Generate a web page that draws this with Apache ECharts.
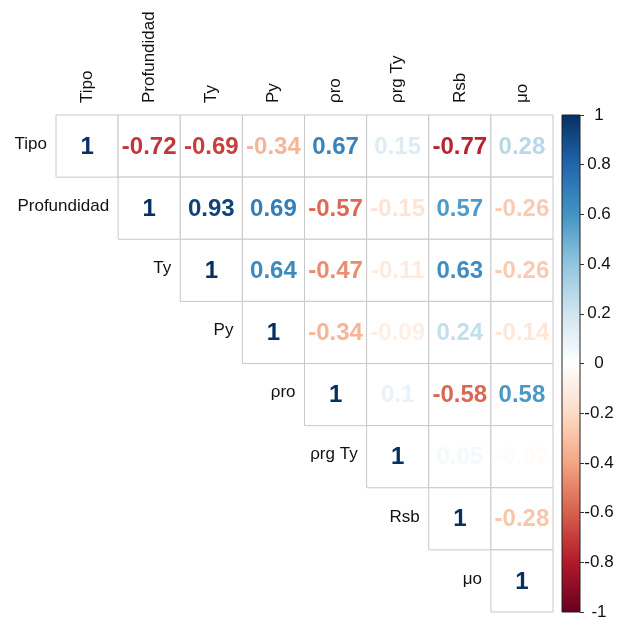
<!DOCTYPE html>
<html>
<head>
<meta charset="utf-8">
<script src="https://cdn.jsdelivr.net/npm/echarts@6/dist/echarts.min.js"></script>
<style>html,body{margin:0;padding:0;background:#fff}#c{width:621px;height:623px}</style>
</head>
<body>
<div id="c"></div>
<script>
const names = ['Tipo', 'Profundidad', 'Ty', 'Py', 'ρro', 'ρrg Ty', 'Rsb', 'μo'];
// upper-triangle correlation rows (starting at the diagonal)
const corTipo = [1, -0.72, -0.69, -0.34, 0.67, 0.15, -0.77, 0.28];
const corProfundidad = [1, 0.93, 0.69, -0.57, -0.15, 0.57, -0.26];
const corTy = [1, 0.64, -0.47, -0.11, 0.63, -0.26];
const corPy = [1, -0.34, -0.09, 0.24, -0.14];
const corRhoRo = [1, 0.1, -0.58, 0.58];
const corRhoRgTy = [1, 0.05, -0.02];
const corRsb = [1, -0.28];
const corMu = [1];
const barRange = [-1, 1];
const barStep = 0.2;
const rdbu = ['#67001F', '#B2182B', '#D6604D', '#F4A582', '#FDDBC7', '#FFFFFF',
              '#D1E5F0', '#92C5DE', '#4393C3', '#2166AC', '#053061'];

const rows = [corTipo, corProfundidad, corTy, corPy, corRhoRo, corRhoRgTy, corRsb, corMu];
const cells = [];
rows.forEach((row, i) => row.forEach((v, k) => cells.push([i + k, i, v])));

function hex2rgb(h) { return [1, 3, 5].map(p => parseInt(h.substr(p, 2), 16)); }
function colorFor(v) {
  const t = (v + 1) / 2 * (rdbu.length - 1);
  const i = Math.min(rdbu.length - 2, Math.max(0, Math.floor(t)));
  const f = t - i;
  const a = hex2rgb(rdbu[i]), b = hex2rgb(rdbu[i + 1]);
  const c = a.map((x, j) => Math.round(x + (b[j] - x) * f));
  return 'rgb(' + c.join(',') + ')';
}

const FONT = '"Liberation Sans", Arial, Helvetica, sans-serif';
const chart = echarts.init(document.getElementById('c'), null, { renderer: 'canvas' });

chart.setOption({
  animation: false,
  backgroundColor: '#fff',
  grid: [
    { left: 56, top: 115, width: 497, height: 497 },
    { left: 562, top: 115, width: 18, height: 497 }
  ],
  xAxis: [
    {
      gridIndex: 0, type: 'category', data: names, position: 'top',
      axisLine: { show: false }, axisTick: { show: false }, splitLine: { show: false },
      axisLabel: { rotate: -90, margin: 12, fontSize: 17, color: '#111', fontFamily: FONT, interval: 0 }
    },
    { gridIndex: 1, type: 'category', data: [''], show: false }
  ],
  yAxis: [
    { gridIndex: 0, type: 'category', data: names, inverse: true, show: false },
    {
      gridIndex: 1, type: 'value', min: barRange[0], max: barRange[1], interval: barStep, position: 'right',
      axisLine: { show: false }, splitLine: { show: false },
      axisTick: { show: true, length: 4, lineStyle: { color: '#333', width: 1 } },
      axisLabel: {
        margin: 19, align: 'center', fontSize: 17, color: '#111', fontFamily: FONT,
        formatter: v => String(Math.round(v * 10) / 10)
      }
    }
  ],
  series: [
    {
      type: 'custom', xAxisIndex: 0, yAxisIndex: 0, data: cells,
      encode: { x: 0, y: 1 },
      renderItem: function (params, api) {
        const x = api.value(0), y = api.value(1), v = api.value(2);
        const c = api.coord([x, y]);
        const s = api.size([1, 1]);
        const children = [
          { type: 'rect', z2: 1,
            shape: { x: c[0] - s[0] / 2, y: c[1] - s[1] / 2, width: s[0], height: s[1] },
            style: { fill: '#fff', stroke: '#c8c8c8', lineWidth: 1 } },
          { type: 'text', z2: 10,
            style: { text: String(v), x: c[0], y: c[1] + 1, align: 'center', verticalAlign: 'middle',
                     fill: colorFor(v), fontSize: 24, fontWeight: 'bold', fontFamily: FONT } }
        ];
        if (x === y) {
          children.push({ type: 'text', z2: 10,
            style: { text: names[y], x: c[0] - s[0] / 2 - 9, y: c[1] - 2, align: 'right', verticalAlign: 'middle',
                     fill: '#111', fontSize: 17, fontFamily: FONT } });
        }
        return { type: 'group', children: children };
      }
    },
    {
      type: 'custom', xAxisIndex: 1, yAxisIndex: 1, data: [[0, barRange[1]]],
      encode: { x: 0, y: 1 },
      renderItem: function (params, api) {
        const top = api.coord([0, barRange[1]]);
        const bot = api.coord([0, barRange[0]]);
        const w = api.size([1, 0])[0];
        const stops = rdbu.slice().reverse().map((col, i) => ({ offset: i / (rdbu.length - 1), color: col }));
        return {
          type: 'rect',
          shape: { x: top[0] - w / 2, y: top[1], width: w, height: bot[1] - top[1] },
          style: {
            fill: new echarts.graphic.LinearGradient(0, 0, 0, 1, stops),
            stroke: '#222', lineWidth: 1
          }
        };
      }
    }
  ]
});
</script>
</body>
</html>
